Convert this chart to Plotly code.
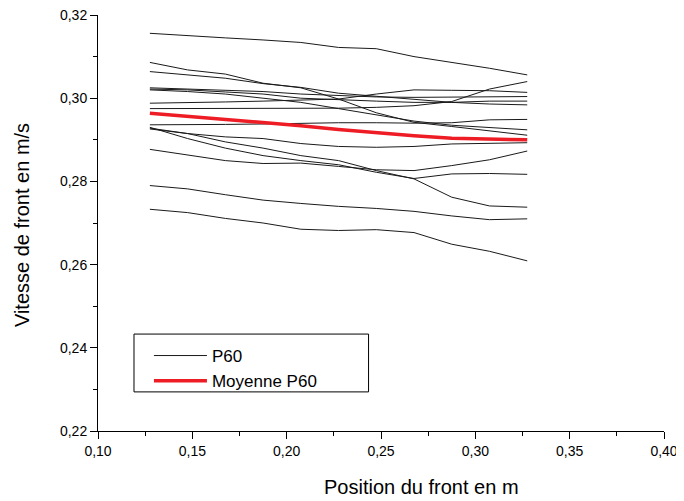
import plotly.graph_objects as go

positions = [0.1275, 0.1475, 0.1675, 0.1875, 0.2075, 0.2275, 0.2475, 0.2675, 0.2875, 0.3075, 0.3275]

run_a = [0.3156, 0.3150, 0.3145, 0.3140, 0.3134, 0.3122, 0.3119, 0.3100, 0.3086, 0.3072, 0.3056]
run_b = [0.3086, 0.3068, 0.3058, 0.3036, 0.3025, 0.2998, 0.2965, 0.2942, 0.2932, 0.2922, 0.2911]
run_c = [0.3064, 0.3056, 0.3048, 0.3035, 0.3026, 0.3012, 0.3005, 0.2998, 0.2990, 0.2986, 0.2984]
run_d = [0.3025, 0.3022, 0.3020, 0.3016, 0.3010, 0.3006, 0.3003, 0.3002, 0.3003, 0.3004, 0.3004]
run_e = [0.3022, 0.3020, 0.3015, 0.3010, 0.3000, 0.2996, 0.2993, 0.2990, 0.2990, 0.2993, 0.2993]
run_f = [0.3020, 0.3016, 0.3010, 0.3000, 0.2990, 0.2975, 0.2960, 0.2945, 0.2935, 0.2930, 0.2924]
run_g = [0.2988, 0.2989, 0.2991, 0.2993, 0.2995, 0.2998, 0.3010, 0.3020, 0.3019, 0.3018, 0.3014]
run_h = [0.2975, 0.2975, 0.2975, 0.2975, 0.2976, 0.2976, 0.2978, 0.2982, 0.2992, 0.3022, 0.3040]
run_i = [0.2936, 0.2936, 0.2937, 0.2938, 0.2940, 0.2941, 0.2941, 0.2940, 0.2941, 0.2948, 0.2949]
run_j = [0.2930, 0.2903, 0.2880, 0.2862, 0.2850, 0.2840, 0.2822, 0.2807, 0.2818, 0.2819, 0.2817]
run_k = [0.2928, 0.2915, 0.2895, 0.2880, 0.2862, 0.2850, 0.2826, 0.2806, 0.2762, 0.2741, 0.2738]
run_l = [0.2926, 0.2915, 0.2907, 0.2903, 0.2891, 0.2884, 0.2882, 0.2884, 0.2890, 0.2892, 0.2893]
run_m = [0.2877, 0.2864, 0.2850, 0.2843, 0.2844, 0.2836, 0.2828, 0.2826, 0.2838, 0.2852, 0.2873]
run_n = [0.2790, 0.2782, 0.2768, 0.2755, 0.2747, 0.2740, 0.2735, 0.2728, 0.2717, 0.2708, 0.2710]
run_o = [0.2733, 0.2725, 0.2711, 0.2700, 0.2685, 0.2682, 0.2684, 0.2677, 0.2649, 0.2632, 0.2609]

mean_p60 = [0.2964, 0.2957, 0.2950, 0.2941, 0.2934, 0.2925, 0.2917, 0.2910, 0.2904, 0.2902, 0.2900]

runs = [run_a, run_b, run_c, run_d, run_e, run_f, run_g, run_h,
        run_i, run_j, run_k, run_l, run_m, run_n, run_o]

x_title = "Position du front en m"
y_title = "Vitesse de front en m/s"

fig = go.Figure()
for k, r in enumerate(runs):
    fig.add_trace(go.Scatter(
        x=positions, y=r, mode="lines", name="P60", legendgroup="p60",
        showlegend=(k == 0), line=dict(color="#1a1a1a", width=1)))

fig.add_trace(go.Scatter(
    x=positions, y=mean_p60, mode="lines", name="Moyenne P60",
    line=dict(color="#ee1c25", width=3.5)))

font_family = "Liberation Sans, Arial, sans-serif"

# the page body adds an 8px margin, so the figure is 8px smaller
fig.update_layout(
    width=676, height=493,
    margin=dict(l=90, r=20, t=7, b=70),
    paper_bgcolor="white", plot_bgcolor="white",
    separators=", ",
    font=dict(family=font_family, color="black", size=14),
    showlegend=True,
    legend=dict(
        x=0.0900, y=0.2236, xanchor="left", yanchor="top",
        borderwidth=0, bgcolor="rgba(0,0,0,0)",
        font=dict(size=17, family=font_family, color="black"),
        tracegroupgap=0, itemwidth=53,
    ),
    shapes=[dict(type="rect", xref="paper", yref="paper",
                 x0=0.0636, x1=0.478, y0=0.094, y1=0.233,
                 line=dict(color="black", width=1), fillcolor="rgba(0,0,0,0)", layer="above")],
    annotations=[
        dict(text=x_title, xref="paper", yref="paper", x=0.5724, y=0, yshift=-56,
             xanchor="center", yanchor="middle", showarrow=False,
             font=dict(size=20, family=font_family, color="black")),
        dict(text=y_title, xref="paper", yref="paper", x=0, y=0.495, xshift=-76,
             xanchor="center", yanchor="middle", showarrow=False, textangle=-90,
             font=dict(size=20, family=font_family, color="black")),
    ],
)

fig.update_xaxes(
    range=[0.10, 0.40], dtick=0.05, tick0=0.10, tickformat=".2f", automargin=False,
    ticklabeloverflow="allow",
    showline=True, linecolor="black", linewidth=1, mirror=False,
    ticks="outside", ticklen=7, tickcolor="black", showgrid=False, zeroline=False,
    minor=dict(ticks="outside", ticklen=4, dtick=0.025, tick0=0.10, tickcolor="black", showgrid=False),
    tickfont=dict(size=14, family=font_family, color="black"),
)
fig.update_yaxes(
    range=[0.22, 0.32], dtick=0.02, tick0=0.22, tickformat=".2f", automargin=False,
    ticklabeloverflow="allow",
    showline=True, linecolor="black", linewidth=1, mirror=False,
    ticks="outside", ticklen=7, tickcolor="black", showgrid=False, zeroline=False,
    minor=dict(ticks="outside", ticklen=4, dtick=0.01, tick0=0.22, tickcolor="black", showgrid=False),
    tickfont=dict(size=14, family=font_family, color="black"),
)

fig.write_html("out.html")
